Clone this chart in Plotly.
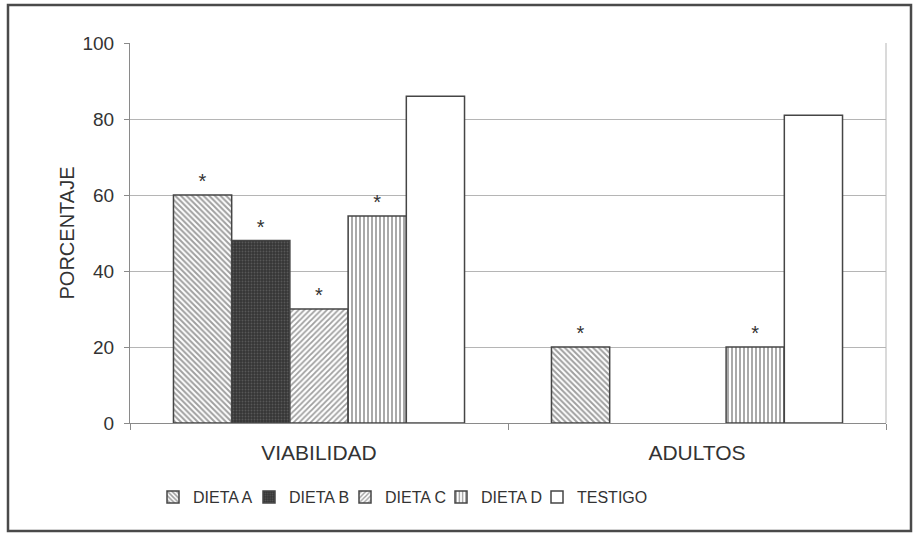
import plotly.graph_objects as go

categories = ["VIABILIDAD", "ADULTOS"]
series_names = ["DIETA A", "DIETA B", "DIETA C", "DIETA D", "TESTIGO"]
dieta_a = [60, 20]
dieta_b = [48, 0]
dieta_c = [30, 0]
dieta_d = [54.5, 20]
testigo = [86, 81]
significance = [["*", "*"], ["*", ""], ["*", ""], ["*", "*"], ["", ""]]
y_ticks = [0, 20, 40, 60, 80, 100]

values = [dieta_a, dieta_b, dieta_c, dieta_d, testigo]
patterns = [
    dict(shape="\\", fgcolor="#404040", bgcolor="white", size=4, solidity=0.5),
    dict(shape=".", fgcolor="#777777", bgcolor="#363636", size=3, solidity=0.3),
    dict(shape="/", fgcolor="#404040", bgcolor="white", size=4, solidity=0.45),
    dict(shape="|", fgcolor="#404040", bgcolor="white", size=4, solidity=0.45),
    dict(shape="", fgcolor="white", bgcolor="white"),
]

FONT = "Liberation Sans, Arial"

fig = go.Figure()
for name, vals, pat, stars in zip(series_names, values, patterns, significance):
    fig.add_trace(go.Bar(
        name=name, x=categories, y=[v if v else None for v in vals],
        marker=dict(color="white", pattern=pat, line=dict(color="#454545", width=1.5)),
        text=stars, textposition="outside", cliponaxis=False,
        textfont=dict(size=20, color="#333333", family=FONT),
    ))
# invisible spacer entry so the last legend label is not clipped
fig.add_trace(go.Scatter(x=[None], y=[None], mode="markers", name=" ",
                         marker=dict(color="rgba(0,0,0,0)", size=1, line=dict(width=0)),
                         hoverinfo="skip"))

# outer frame
fig.add_shape(type="rect", xref="paper", yref="paper",
              x0=(8 - 130) / 756, x1=(911 - 130) / 756,
              y0=(423 - 531) / 380, y1=(423 - 5) / 380,
              line=dict(color="#4a4a4a", width=2.5), fillcolor="rgba(0,0,0,0)", layer="below")

fig.update_layout(
    width=917, height=537,
    margin=dict(l=130, r=31, t=43, b=114),
    paper_bgcolor="white", plot_bgcolor="white",
    barmode="group", bargap=0.23, bargroupgap=0,
    font=dict(family=FONT, color="#333333", size=16),
    showlegend=True,
    legend=dict(orientation="h", x=(153 - 130) / 756, xanchor="left", y=(423 - 497) / 380, yanchor="middle",
                font=dict(size=16, color="#333333"), traceorder="normal",
                itemwidth=30, entrywidth=51, entrywidthmode="pixels", bgcolor="rgba(0,0,0,0)"),
)
fig.update_xaxes(
    showline=True, linecolor="#8a8a8a", linewidth=1,
    ticks="outside", tickson="boundaries", ticklen=6, tickcolor="#8a8a8a",
    tickfont=dict(size=21, color="#333333"), ticklabelstandoff=11,
    showgrid=False, mirror=False,
)
fig.update_yaxes(
    range=[0, 100], tickvals=y_ticks, showgrid=True, gridcolor="#b5b5b5", gridwidth=1,
    showline=True, linecolor="#8a8a8a", linewidth=1,
    ticks="outside", ticklen=5, tickcolor="#8a8a8a",
    tickfont=dict(size=19, color="#333333"), ticklabelstandoff=6,
    title=dict(text="PORCENTAJE", font=dict(size=20, color="#333333"), standoff=2),
    zeroline=False,
)
fig.add_shape(type="line", xref="paper", yref="paper", x0=1, x1=1, y0=0, y1=1,
              line=dict(color="#b5b5b5", width=1))

fig.write_html("out.html", config={"displayModeBar": False},
               post_script="document.body.style.margin='0';")
